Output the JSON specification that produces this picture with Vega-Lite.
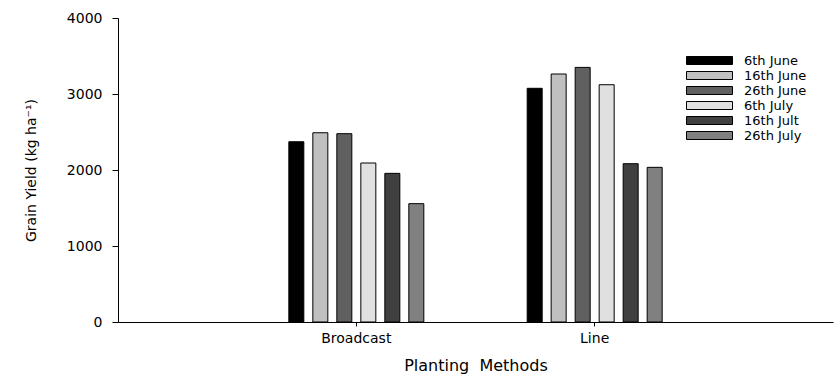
{
  "$schema": "https://vega.github.io/schema/vega-lite/v6.json",
  "autosize": {"type": "none"},
  "width": 715,
  "height": 304,
  "padding": {"left": 118, "top": 18, "right": 1, "bottom": 52},
  "background": "white",
  "config": {"view": {"stroke": null}},
  "data": {
    "values": [
      {"method": "Broadcast", "date": "6th June", "yield": 2372},
      {"method": "Broadcast", "date": "16th June", "yield": 2490},
      {"method": "Broadcast", "date": "26th June", "yield": 2478},
      {"method": "Broadcast", "date": "6th July", "yield": 2092},
      {"method": "Broadcast", "date": "16th Jult", "yield": 1956},
      {"method": "Broadcast", "date": "26th July", "yield": 1557},
      {"method": "Line", "date": "6th June", "yield": 3075},
      {"method": "Line", "date": "16th June", "yield": 3263},
      {"method": "Line", "date": "26th June", "yield": 3350},
      {"method": "Line", "date": "6th July", "yield": 3122},
      {"method": "Line", "date": "16th Jult", "yield": 2083},
      {"method": "Line", "date": "26th July", "yield": 2035}
    ]
  },
  "mark": {"type": "bar", "stroke": "black", "strokeWidth": 1, "opacity": 1},
  "encoding": {
    "x": {
      "field": "method",
      "type": "nominal",
      "scale": {"paddingInner": 0.4, "paddingOuter": 0.7},
      "axis": {
        "title": "Planting\u00a0 Methods",
        "labelAngle": 0,
        "labelFont": "DejaVu Sans",
        "labelFontSize": 14,
        "labelColor": "black",
        "labelPadding": 5,
        "tickSize": 4,
        "tickColor": "black",
        "domainColor": "black",
        "titleFont": "DejaVu Sans",
        "titleFontSize": 16,
        "titleFontWeight": "normal",
        "titleColor": "black",
        "titlePadding": 12
      }
    },
    "xOffset": {
      "field": "date",
      "type": "nominal",
      "sort": ["6th June", "16th June", "26th June", "6th July", "16th Jult", "26th July"],
      "scale": {"paddingInner": 0.375, "paddingOuter": 0.167}
    },
    "y": {
      "field": "yield",
      "type": "quantitative",
      "scale": {"domain": [0, 4000], "nice": false},
      "axis": {
        "title": "Grain Yield (kg ha\u207b\u00b9)",
        "values": [0, 1000, 2000, 3000, 4000],
        "format": "d",
        "grid": false,
        "tickSize": 6,
        "tickColor": "black",
        "domainColor": "black",
        "labelFont": "DejaVu Sans",
        "labelFontSize": 14,
        "labelColor": "black",
        "labelPadding": 10,
        "titleFont": "DejaVu Sans",
        "titleFontSize": 14,
        "titleFontWeight": "normal",
        "titleColor": "black",
        "titlePadding": 28
      }
    },
    "fill": {
      "field": "date",
      "type": "nominal",
      "sort": ["6th June", "16th June", "26th June", "6th July", "16th Jult", "26th July"],
      "scale": {
        "domain": ["6th June", "16th June", "26th June", "6th July", "16th Jult", "26th July"],
        "range": ["#000000", "#c0c0c0", "#606060", "#e0e0e0", "#404040", "#808080"]
      },
      "legend": {
        "title": null,
        "orient": "none",
        "legendX": 585,
        "legendY": 36,
        "symbolType": "M-4.6,-0.8H4.6V0.8H-4.6Z",
        "symbolSize": 100,
        "symbolStrokeColor": "black",
        "symbolStrokeWidth": 1,
        "symbolOpacity": 1,
        "labelFont": "DejaVu Sans",
        "labelFontSize": 13,
        "labelColor": "black",
        "labelOffset": 28,
        "rowPadding": 1
      }
    }
  }
}
